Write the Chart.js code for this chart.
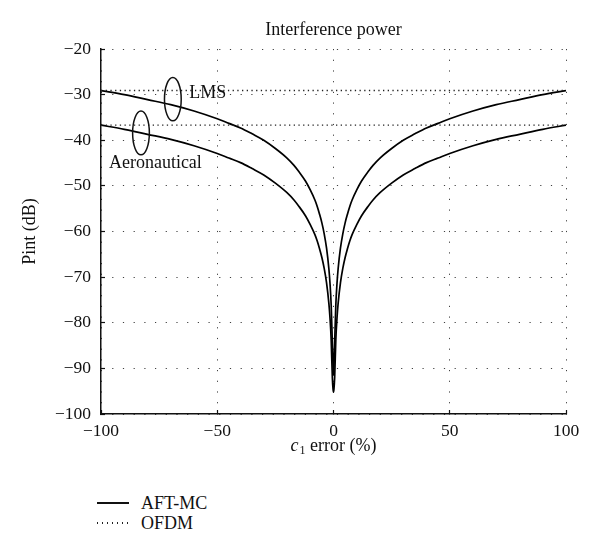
<!DOCTYPE html>
<html>
<head>
<meta charset="utf-8">
<script src="https://cdn.jsdelivr.net/npm/chart.js@4/dist/chart.umd.min.js"></script>
<style>
    html, body { margin: 0; padding: 0; background: #fff; }
    #wrap { position: relative; width: 600px; height: 556px; }
    #chart { position: absolute; left: 0; top: 0; }
    .legend { position: absolute; left: 97px; top: 493px; font: 18px "Liberation Serif", serif; color: #111; }
    .legend .row { display: flex; align-items: center; height: 20px; }
    .legend .swatch { width: 32px; height: 1.5px; margin-right: 12px; background: #111; }
    .legend .swatch.dot { background: repeating-linear-gradient(to right, #222 0 1.4px, transparent 1.4px 5px); }
</style>
</head>
<body>
<div id="wrap">
    <canvas id="chart" width="600" height="470"></canvas>
    <div class="legend">
        <div class="row"><span class="swatch"></span>AFT-MC</div>
        <div class="row"><span class="swatch dot"></span>OFDM</div>
    </div>
</div>
<script>
// Interference power vs c1 error, AFT-MC (solid) against OFDM (dotted),
// for the LMS and aeronautical channels.

const SERIF = '"Liberation Serif", "Times New Roman", serif';
const INK = "#111";
const GRID = "rgba(0,0,0,0.75)";

// c1 error (%), x positions of the AFT-MC curves
const errorPct = [-100, -90, -80, -70, -60, -50, -45, -40, -35, -30, -25, -20, -17, -15, -12, -10, -8, -7, -6, -5, -4, -3, -2, -1.5, -1, -0.5, -0.2,
    0,
    0.2, 0.5, 1, 1.5, 2, 3, 4, 5, 6, 7, 8, 10, 12, 15, 17, 20, 25, 30, 35, 40, 45, 50, 60, 70, 80, 90, 100];

// Pint (dB)
const lmsAftMc = [-29.1, -30.0, -31.1, -32.2, -33.6, -35.3, -36.3, -37.3, -38.6, -40.0, -41.8, -43.9, -45.5, -46.8, -49.0, -50.9, -53.1, -54.5, -56.2, -58.1, -60.5, -63.6, -68.1, -71.4, -76.1, -84.4, -89.5,
    -91.5,
    -89.5, -84.4, -76.1, -71.4, -68.1, -63.6, -60.5, -58.1, -56.2, -54.5, -53.1, -50.9, -49.0, -46.8, -45.5, -43.9, -41.8, -40.0, -38.6, -37.3, -36.3, -35.3, -33.6, -32.2, -31.1, -30.0, -29.1];
const aeroAftMc = [-36.7, -37.6, -38.7, -39.8, -41.2, -42.9, -43.9, -44.9, -46.2, -47.6, -49.4, -51.5, -53.1, -54.4, -56.6, -58.5, -60.7, -62.1, -63.8, -65.7, -68.1, -71.2, -75.7, -79.0, -83.7, -92.0, -94.5,
    -95.2,
    -94.5, -92.0, -83.7, -79.0, -75.7, -71.2, -68.1, -65.7, -63.8, -62.1, -60.7, -58.5, -56.6, -54.4, -53.1, -51.5, -49.4, -47.6, -46.2, -44.9, -43.9, -42.9, -41.2, -39.8, -38.7, -37.6, -36.7];

// OFDM is flat across the whole error range
const ofdmPct = [-100, 100];
const lmsOfdm = [-29.1, -29.1];
const aeroOfdm = [-36.7, -36.7];

const xTicks = [-100, -50, 0, 50, 100];
const yTicks = [-100, -90, -80, -70, -60, -50, -40, -30, -20];

// ellipse call-outs, in data units
const callouts = [
    { text: "LMS", cx: -69.1, cy: -31.0, rx: 3.6, ry: 4.75, tx: -62.0, ty: -29.6 },
    { text: "Aeronautical", cx: -82.8, cy: -38.4, rx: 3.6, ry: 4.8, tx: -96.6, ty: -45.0 }
];

const toPts = (xs, ys) => xs.map((x, i) => ({ x, y: ys[i] }));
const minus = v => String(v).replace("-", "\u2212");

function solid(label, ys) {
    return {
        label, data: toPts(errorPct, ys),
        borderColor: "#000", borderWidth: 1.7,
        pointRadius: 0, cubicInterpolationMode: "monotone", fill: false
    };
}
function dotted(label, ys) {
    return {
        label, data: toPts(ofdmPct, ys),
        borderColor: "#222", borderWidth: 1.3, borderDash: [1.3, 3.4],
        pointRadius: 0, tension: 0, fill: false
    };
}

const overlayPlugin = {
    id: "overlay",
    afterDatasetsDraw(chart) {
        const { ctx, scales: { x, y } } = chart;
        ctx.save();
        ctx.strokeStyle = INK;
        ctx.fillStyle = INK;
        ctx.lineWidth = 1.5;
        ctx.font = `18px ${SERIF}`;
        ctx.textAlign = "left";
        ctx.textBaseline = "middle";
        for (const c of callouts) {
            const px = x.getPixelForValue(c.cx), py = y.getPixelForValue(c.cy);
            const rx = Math.abs(x.getPixelForValue(c.cx + c.rx) - px);
            const ry = Math.abs(y.getPixelForValue(c.cy + c.ry) - py);
            ctx.beginPath();
            ctx.ellipse(px, py, rx, ry, 0, 0, Math.PI * 2);
            ctx.stroke();
            ctx.fillText(c.text, x.getPixelForValue(c.tx), y.getPixelForValue(c.ty));
        }
        ctx.restore();
    },
    afterDraw(chart) {
        const { ctx, chartArea } = chart;
        const cx = (chartArea.left + chartArea.right) / 2;
        ctx.save();
        ctx.fillStyle = INK;
        ctx.textBaseline = "alphabetic";

        ctx.font = `18px ${SERIF}`;
        ctx.textAlign = "center";
        ctx.fillText("Interference power", cx, 35);

        // x-axis title: italic c, subscript 1, then the rest
        const big = `18px ${SERIF}`, ital = `italic 18px ${SERIF}`, sub = `12px ${SERIF}`;
        const rest = " error (%)";
        ctx.font = ital; const wc = ctx.measureText("c").width;
        ctx.font = sub; const w1 = ctx.measureText("1").width;
        ctx.font = big; const wr = ctx.measureText(rest).width;
        let tx = cx - (wc + w1 + 1 + wr) / 2;
        const base = 451;
        ctx.textAlign = "left";
        ctx.font = ital; ctx.fillText("c", tx, base); tx += wc + 1;
        ctx.font = sub; ctx.fillText("1", tx, base + 3); tx += w1;
        ctx.font = big; ctx.fillText(rest, tx, base);
        ctx.restore();
    }
};

new Chart(document.getElementById("chart"), {
    type: "line",
    data: {
        datasets: [
            dotted("OFDM LMS", lmsOfdm),
            dotted("OFDM Aeronautical", aeroOfdm),
            solid("AFT-MC LMS", lmsAftMc),
            solid("AFT-MC Aeronautical", aeroAftMc)
        ]
    },
    options: {
        responsive: false,
        animation: false,
        layout: { padding: { top: 49, right: 34, bottom: 0, left: 0 } },
        plugins: {
            legend: { display: false },
            title: { display: false },
            tooltip: { enabled: false }
        },
        scales: {
            x: {
                type: "linear",
                min: -100, max: 100,
                afterBuildTicks: s => { s.ticks = xTicks.map(v => ({ value: v })); },
                afterFit: s => { s.height = 56; },
                ticks: {
                    color: INK, font: { family: SERIF, size: 17.5 },
                    padding: 11, maxRotation: 0, callback: minus
                },
                grid: { color: GRID, lineWidth: 1, drawTicks: true, tickLength: -4, tickColor: INK, tickWidth: 1.2 },
                border: { display: true, color: INK, width: 1.5, dash: [1.2, 9.5] }
            },
            y: {
                min: -100, max: -20,
                afterBuildTicks: s => { s.ticks = yTicks.map(v => ({ value: v })); },
                afterFit: s => { s.width = 101; },
                ticks: {
                    color: INK, font: { family: SERIF, size: 17.5 },
                    padding: 14, callback: minus
                },
                grid: { color: GRID, lineWidth: 1, drawTicks: true, tickLength: -4, tickColor: INK, tickWidth: 1.2 },
                border: { display: true, color: INK, width: 1.5, dash: [1.2, 9.5] },
                title: {
                    display: true, text: "Pint (dB)", color: INK,
                    font: { family: SERIF, size: 18 }, padding: { top: 19, bottom: 0 }
                }
            }
        }
    },
    plugins: [overlayPlugin]
});
</script>
</body>
</html>
